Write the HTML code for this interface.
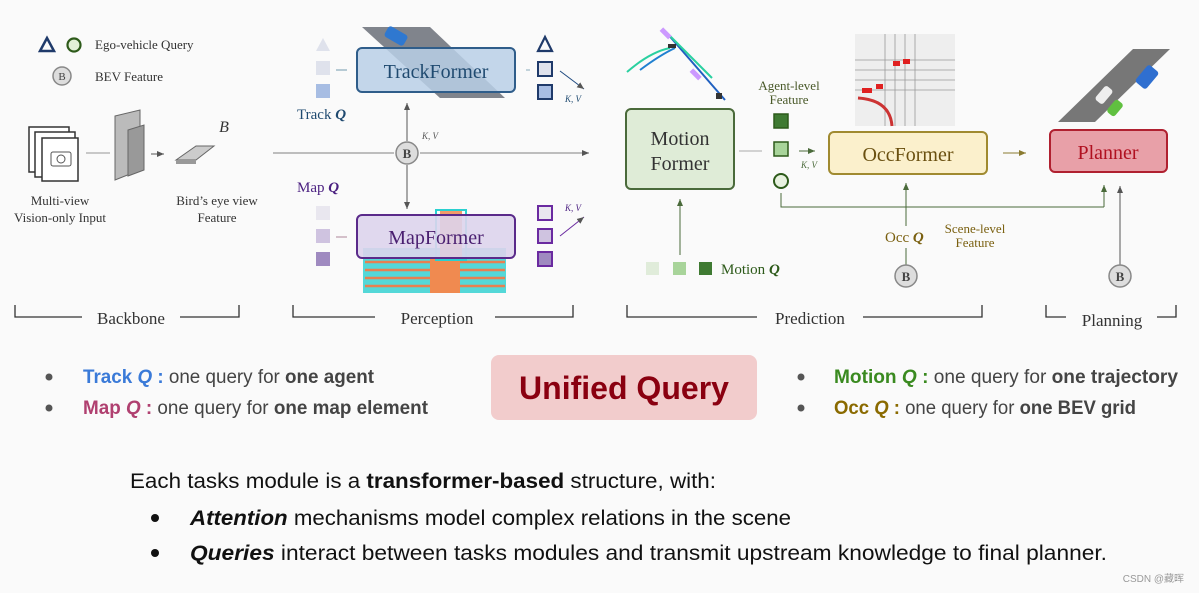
<!DOCTYPE html>
<html><head><meta charset="utf-8"><style>
html,body{margin:0;padding:0;background:#fafafa;}
svg{display:block;}
.s{font-family:"Liberation Serif",serif;}
.a{font-family:"Liberation Sans","Noto Sans CJK SC",sans-serif;}
</style></head><body>
<svg width="1199" height="593" viewBox="0 0 1199 593" xmlns="http://www.w3.org/2000/svg">
<defs>
<marker id="ar" markerWidth="8" markerHeight="8" refX="7" refY="4" orient="auto" markerUnits="userSpaceOnUse"><path d="M0,1 L7,4 L0,7 z" fill="#555"/></marker>
<marker id="ag" markerWidth="8" markerHeight="8" refX="7" refY="4" orient="auto" markerUnits="userSpaceOnUse"><path d="M0,1 L7,4 L0,7 z" fill="#4a6a3a"/></marker>
<marker id="ay" markerWidth="8" markerHeight="8" refX="7" refY="4" orient="auto" markerUnits="userSpaceOnUse"><path d="M0,1 L7,4 L0,7 z" fill="#8a7a30"/></marker>
</defs>
<rect width="1199" height="593" fill="#fafafa"/>
<!-- legend -->
<polygon points="47,38 40,51 54,51" fill="none" stroke="#1f3a6a" stroke-width="2.5"/>
<circle cx="74" cy="45" r="6.5" fill="#e3f0d8" stroke="#2d5a1a" stroke-width="2.2"/>
<text x="95" y="49" class="s" font-size="13" fill="#333">Ego-vehicle Query</text>
<circle cx="62" cy="76" r="9" fill="#ddd" stroke="#888" stroke-width="1.5"/>
<text x="62" y="80" class="s" font-size="11" text-anchor="middle" fill="#444">B</text>
<text x="95" y="81" class="s" font-size="13" fill="#333">BEV Feature</text>
<!-- camera stack -->
<rect x="29" y="127" width="40" height="45" fill="#fff" stroke="#333" stroke-width="1.5"/>
<rect x="35" y="132" width="40" height="45" fill="#fff" stroke="#333" stroke-width="1.5"/>
<rect x="42" y="138" width="36" height="43" fill="#fff" stroke="#333" stroke-width="1.5"/>
<rect x="51" y="152" width="20" height="14" rx="2" fill="none" stroke="#555"/><circle cx="61" cy="159" r="4" fill="none" stroke="#555"/>
<line x1="86" y1="153" x2="110" y2="153" stroke="#aaa" stroke-width="1.2"/>
<polygon points="115,116 140,110 140,170 115,180" fill="#bbb" stroke="#666"/>
<polygon points="128,130 144,125 144,170 128,176" fill="#999" stroke="#666"/>
<line x1="151" y1="154" x2="164" y2="154" stroke="#555" marker-end="url(#ar)"/>
<text x="224" y="132" class="s" font-size="16" font-style="italic" fill="#333" text-anchor="middle">B</text>
<polygon points="176,160 196,146 214,146 196,160" fill="#ccc" stroke="#666"/>
<polygon points="176,160 196,160 196,164 176,164" fill="#999"/>
<text x="60" y="205" class="s" font-size="13" fill="#333" text-anchor="middle">Multi-view</text>
<text x="60" y="222" class="s" font-size="13" fill="#333" text-anchor="middle">Vision-only Input</text>
<text x="217" y="205" class="s" font-size="13" fill="#333" text-anchor="middle">Bird’s eye view</text>
<text x="217" y="222" class="s" font-size="13" fill="#333" text-anchor="middle">Feature</text>
<!-- main line -->
<line x1="273" y1="153" x2="394" y2="153" stroke="#999" stroke-width="1.2"/>
<line x1="420" y1="153" x2="589" y2="153" stroke="#999" stroke-width="1.2" marker-end="url(#ar)"/>
<circle cx="407" cy="153" r="11" fill="#ddd" stroke="#888" stroke-width="1.5"/>
<text x="407" y="158" class="s" font-size="13" font-weight="bold" text-anchor="middle" fill="#444">B</text>
<line x1="407" y1="141" x2="407" y2="103" stroke="#555" marker-end="url(#ar)"/>
<line x1="407" y1="165" x2="407" y2="209" stroke="#555" marker-end="url(#ar)"/>
<text x="422" y="139" class="s" font-size="9" font-style="italic" fill="#555">K, V</text>
<!-- track image -->
<polygon points="362,27 430,27 505,98 440,98" fill="#6a6e78" opacity="0.85"/>
<rect x="385" y="30" width="22" height="12" rx="3" fill="#2f78d0" transform="rotate(30 396 36)"/>
<!-- trackformer -->
<rect x="357" y="48" width="158" height="44" rx="5" fill="#b9cfe6" fill-opacity="0.85" stroke="#2f5d8a" stroke-width="2"/>
<text x="436" y="78" class="s" font-size="20" text-anchor="middle" fill="#1f4a70">TrackFormer</text>
<polygon points="323,38 316,51 330,51" fill="#dfe2ec"/>
<rect x="316" y="61" width="14" height="14" fill="#dfe2ec"/>
<rect x="316" y="84" width="14" height="14" fill="#a7bde3"/>
<line x1="336" y1="70" x2="347" y2="70" stroke="#8ab" stroke-width="1.2"/>
<text x="297" y="119" class="s" font-size="15" fill="#1f4a70">Track <tspan font-weight="bold" font-style="italic">Q</tspan></text>
<polygon points="545,37 538,51 552,51" fill="none" stroke="#1f3a6a" stroke-width="2.2"/>
<rect x="538" y="62" width="14" height="14" fill="#dfe2ec" stroke="#1f3a6a" stroke-width="2"/>
<rect x="538" y="85" width="14" height="14" fill="#a7bde3" stroke="#1f3a6a" stroke-width="2"/>
<line x1="526" y1="70" x2="530" y2="70" stroke="#8ab"/>
<line x1="560" y1="71" x2="584" y2="89" stroke="#1f4a80" marker-end="url(#ar)"/>
<text x="565" y="102" class="s" font-size="9" font-style="italic" fill="#1f4a70">K, V</text>
<!-- map image -->
<rect x="363" y="248" width="143" height="45" fill="#2ad0d0" opacity="0.8"/>
<g stroke="#e88050" stroke-width="2.5"><line x1="365" y1="262" x2="505" y2="262"/><line x1="365" y1="270" x2="505" y2="270"/><line x1="365" y1="278" x2="505" y2="278"/><line x1="365" y1="286" x2="505" y2="286"/></g>
<rect x="430" y="258" width="30" height="35" fill="#f08a50"/>
<rect x="440" y="210" width="22" height="50" fill="#f08a50" opacity="0.85"/>
<rect x="436" y="210" width="30" height="50" fill="none" stroke="#2ad0d0" stroke-width="2"/>
<!-- mapformer -->
<rect x="357" y="215" width="158" height="43" rx="5" fill="#ddd4ec" fill-opacity="0.9" stroke="#5a2a8a" stroke-width="2"/>
<text x="436" y="244" class="s" font-size="20" text-anchor="middle" fill="#4a1f70">MapFormer</text>
<text x="297" y="192" class="s" font-size="15" fill="#4a1f80">Map <tspan font-weight="bold" font-style="italic">Q</tspan></text>
<rect x="316" y="206" width="14" height="14" fill="#e9e7ef"/>
<rect x="316" y="229" width="14" height="14" fill="#cfc3e0"/>
<rect x="316" y="252" width="14" height="14" fill="#9f8ac0"/>
<line x1="336" y1="237" x2="347" y2="237" stroke="#b9a" stroke-width="1.2"/>
<rect x="538" y="206" width="14" height="14" fill="#e9e7ef" stroke="#6a2aa0" stroke-width="2"/>
<rect x="538" y="229" width="14" height="14" fill="#cfc3e0" stroke="#6a2aa0" stroke-width="2"/>
<rect x="538" y="252" width="14" height="14" fill="#9f8ac0" stroke="#6a2aa0" stroke-width="2"/>
<line x1="560" y1="236" x2="584" y2="217" stroke="#6a2aa0" marker-end="url(#ar)"/>
<text x="565" y="211" class="s" font-size="9" font-style="italic" fill="#4a1f80">K, V</text>
<!-- motion traj -->
<g fill="none" stroke-width="2"><path d="M627,72 Q650,52 670,48" stroke="#2ad0a0"/><path d="M640,70 Q660,55 675,48" stroke="#2080d0"/><path d="M666,32 L725,100" stroke="#2060c0"/><path d="M670,36 L712,78" stroke="#2ad0a0"/></g>
<rect x="660" y="31" width="12" height="5" fill="#cc99ff" transform="rotate(45 666 33)"/>
<rect x="690" y="72" width="12" height="5" fill="#cc99ff" transform="rotate(45 696 74)"/>
<rect x="668" y="44" width="8" height="4" fill="#333"/><rect x="716" y="93" width="6" height="6" fill="#333"/>
<!-- motion former -->
<rect x="626" y="109" width="108" height="80" rx="5" fill="#dfecd7" stroke="#4a6a3a" stroke-width="2"/>
<text x="680" y="145" class="s" font-size="20" text-anchor="middle" fill="#333">Motion</text>
<text x="680" y="170" class="s" font-size="20" text-anchor="middle" fill="#333">Former</text>
<line x1="680" y1="255" x2="680" y2="199" stroke="#4a6a3a" marker-end="url(#ag)"/>
<rect x="646" y="262" width="13" height="13" fill="#e0ecda"/>
<rect x="673" y="262" width="13" height="13" fill="#a8d49a"/>
<rect x="699" y="262" width="13" height="13" fill="#3f7a32"/>
<text x="721" y="274" class="s" font-size="15" fill="#2d5a1a">Motion <tspan font-weight="bold" font-style="italic">Q</tspan></text>
<text x="789" y="90" class="s" font-size="13" text-anchor="middle" fill="#4a5a2a">Agent-level</text>
<text x="789" y="104" class="s" font-size="13" text-anchor="middle" fill="#4a5a2a">Feature</text>
<rect x="774" y="114" width="14" height="14" fill="#3f7a32" stroke="#2d5a1a" stroke-width="1.5"/>
<rect x="774" y="142" width="14" height="14" fill="#a8d49a" stroke="#2d5a1a" stroke-width="1.5"/>
<circle cx="781" cy="181" r="7" fill="#e8f2e0" stroke="#2d5a1a" stroke-width="2"/>
<line x1="739" y1="151" x2="762" y2="151" stroke="#aaa"/>
<line x1="799" y1="151" x2="815" y2="151" stroke="#4a6a3a" marker-end="url(#ag)"/>
<text x="801" y="168" class="s" font-size="9" font-style="italic" fill="#4a6a3a">K, V</text>
<!-- occ image -->
<rect x="855" y="34" width="100" height="92" fill="#eee"/>
<g stroke="#999" stroke-width="0.8"><path d="M855,60 H955 M855,70 H955 M855,80 H955 M855,90 H955 M885,34 V126 M895,34 V126 M905,34 V126 M915,34 V126"/></g>
<path d="M858,98 Q890,100 892,126" stroke="#c33" stroke-width="3" fill="none"/>
<rect x="893" y="61" width="7" height="5" fill="#e02020"/><rect x="903" y="59" width="7" height="5" fill="#e02020"/><rect x="862" y="88" width="10" height="5" fill="#e02020"/><rect x="876" y="84" width="7" height="5" fill="#e02020"/>
<!-- occformer -->
<rect x="829" y="132" width="158" height="42" rx="5" fill="#fbf0cc" stroke="#a08a30" stroke-width="2"/>
<text x="908" y="161" class="s" font-size="20" text-anchor="middle" fill="#6a5010">OccFormer</text>
<line x1="1003" y1="153" x2="1026" y2="153" stroke="#8a7a30" marker-end="url(#ay)"/>
<line x1="906" y1="265" x2="906" y2="183" stroke="#4a6a3a" marker-end="url(#ag)"/>
<circle cx="906" cy="276" r="11" fill="#ddd" stroke="#888" stroke-width="1.5"/>
<text x="906" y="281" class="s" font-size="13" font-weight="bold" text-anchor="middle" fill="#444">B</text>
<rect x="880" y="226" width="52" height="22" fill="#fafafa"/>
<text x="885" y="242" class="s" font-size="15" fill="#7a6010">Occ <tspan font-weight="bold" font-style="italic">Q</tspan></text>
<text x="975" y="233" class="s" font-size="13" text-anchor="middle" fill="#7a6010">Scene-level</text>
<text x="975" y="247" class="s" font-size="13" text-anchor="middle" fill="#7a6010">Feature</text>
<path d="M781,193 V207 H1104" fill="none" stroke="#4a6a3a"/>
<line x1="1104" y1="207" x2="1104" y2="185" stroke="#4a6a3a" marker-end="url(#ag)"/>
<!-- planner image -->
<polygon points="1058,122 1133,49 1170,49 1095,122" fill="#777"/>
<rect x="1140" y="66" width="14" height="22" rx="3" fill="#2f6fd0" transform="rotate(40 1147 77)"/>
<rect x="1099" y="86" width="10" height="18" rx="3" fill="#eee" transform="rotate(40 1104 95)"/>
<rect x="1110" y="100" width="10" height="16" rx="3" fill="#60c040" transform="rotate(40 1115 108)"/>
<!-- planner -->
<rect x="1050" y="130" width="117" height="42" rx="5" fill="#e8a0a8" stroke="#b02030" stroke-width="2"/>
<text x="1108" y="159" class="s" font-size="20" text-anchor="middle" fill="#b01020">Planner</text>
<line x1="1120" y1="265" x2="1120" y2="186" stroke="#555" marker-end="url(#ar)"/>
<circle cx="1120" cy="276" r="11" fill="#ddd" stroke="#888" stroke-width="1.5"/>
<text x="1120" y="281" class="s" font-size="13" font-weight="bold" text-anchor="middle" fill="#444">B</text>
<!-- brackets -->
<g fill="none" stroke="#333" stroke-width="1.3">
<path d="M15,305 V317 H82 M180,317 H239 V305"/>
<path d="M293,305 V317 H375 M495,317 H573 V305"/>
<path d="M627,305 V317 H757 M863,317 H982 V305"/>
<path d="M1046,305 V317 H1066 M1157,317 H1176 V305"/>
</g>
<g class="s" font-size="17" fill="#333" text-anchor="middle">
<text x="131" y="324">Backbone</text><text x="437" y="324">Perception</text><text x="810" y="324">Prediction</text><text x="1112" y="326">Planning</text>
</g>
<!-- unified query -->
<rect x="491" y="355" width="266" height="65" rx="8" fill="#f2cccc"/>
<text x="624" y="399" class="a" font-size="32" font-weight="bold" text-anchor="middle" fill="#8a0010" textLength="210" lengthAdjust="spacingAndGlyphs">Unified Query</text>
<g class="a" font-size="19" fill="#444">
<circle cx="49" cy="377" r="3.5" fill="#555"/><circle cx="49" cy="408" r="3.5" fill="#555"/>
<circle cx="801" cy="377" r="3.5" fill="#555"/><circle cx="801" cy="408" r="3.5" fill="#555"/>
<text x="83" y="383" textLength="291" lengthAdjust="spacingAndGlyphs"><tspan fill="#3a7ad8" font-weight="bold">Track <tspan font-style="italic">Q</tspan> :</tspan> one query for <tspan font-weight="bold">one agent</tspan></text>
<text x="83" y="414" textLength="345" lengthAdjust="spacingAndGlyphs"><tspan fill="#b04070" font-weight="bold">Map <tspan font-style="italic">Q</tspan> :</tspan> one query for <tspan font-weight="bold">one map element</tspan></text>
<text x="834" y="383" textLength="344" lengthAdjust="spacingAndGlyphs"><tspan fill="#3a8a20" font-weight="bold">Motion <tspan font-style="italic">Q</tspan> :</tspan> one query for <tspan font-weight="bold">one trajectory</tspan></text>
<text x="834" y="414" textLength="302" lengthAdjust="spacingAndGlyphs"><tspan fill="#8a6a00" font-weight="bold">Occ <tspan font-style="italic">Q</tspan> :</tspan> one query for <tspan font-weight="bold">one BEV grid</tspan></text>
</g>
<g class="a" font-size="21" fill="#111">
<text x="130" y="488" textLength="586" lengthAdjust="spacingAndGlyphs">Each tasks module is a <tspan font-weight="bold">transformer-based</tspan> structure, with:</text>
<circle cx="155" cy="518" r="4" fill="#111"/><circle cx="155" cy="553" r="4" fill="#111"/>
<text x="190" y="525" textLength="601" lengthAdjust="spacingAndGlyphs"><tspan font-weight="bold" font-style="italic">Attention</tspan> mechanisms model complex relations in the scene</text>
<text x="190" y="560" textLength="917" lengthAdjust="spacingAndGlyphs"><tspan font-weight="bold" font-style="italic">Queries</tspan> interact between tasks modules and transmit upstream knowledge to final planner.</text>
</g>
<text x="1184" y="582" class="a" font-size="10" fill="#999" text-anchor="end">CSDN @藏晖</text>
</svg>
</body></html>
